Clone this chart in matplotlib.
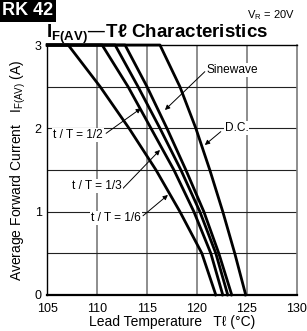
import matplotlib
matplotlib.use("Agg")
import matplotlib.pyplot as plt

plt.rcParams['font.family'] = ['Liberation Sans', 'DejaVu Sans']
plt.rcParams['mathtext.default'] = 'regular'

# Data
current_levels = [3.0, 3.0, 2.5, 2.0, 1.5, 1.0, 0.5, 0.0]
temp_1_6 = [105.0, 107.1, 110.3, 113.2, 115.9, 118.3, 120.5, 121.9]
temp_1_3 = [105.0, 110.5, 113.1, 115.4, 117.7, 119.7, 121.4, 122.6]
temp_1_2 = [105.0, 111.8, 114.1, 116.3, 118.4, 120.3, 121.9, 123.1]
temp_sine = [105.0, 112.8, 115.0, 117.0, 118.9, 120.7, 122.2, 123.5]
temp_dc = [105.0, 116.3, 118.3, 119.9, 121.3, 122.6, 123.8, 124.9]

x_ticks = [105, 110, 115, 120, 125, 130]
y_ticks = [0, 1, 2, 3]

labels = ["t / T = 1/6", "t / T = 1/3", "t / T = 1/2", "Sinewave", "D.C."]
label_text_xy = [(109.4, 0.92), (107.5, 1.31), (105.6, 1.92), (121.0, 2.70), (122.8, 2.00)]
label_arrow_from = [(114.6, 0.95), (112.6, 1.28), (110.9, 1.94), (120.8, 2.68), (122.4, 1.96)]
label_arrow_to = [(117.1, 1.20), (116.3, 1.74), (114.4, 2.24), (116.8, 2.22), (120.8, 1.80)]

fig = plt.figure(figsize=(3.07, 3.31), dpi=100)
ax = fig.add_axes([0.154, 0.109, 0.812, 0.755])

ax.set_xlim(105, 130)
ax.set_ylim(0, 3)

# grid
for xv in x_ticks[1:-1]:
    ax.axvline(xv, color='#7a7a7a', lw=1.2, zorder=1)
for yv in [0.5, 1, 1.5, 2, 2.5]:
    ax.axhline(yv, color='#222222', lw=0.8, zorder=1)

for t in [temp_1_6, temp_1_3, temp_1_2, temp_sine, temp_dc]:
    ax.plot(t, current_levels, color='black', lw=2.0, zorder=3,
            solid_joinstyle='round', clip_on=False)

for lab, txy, afrom, ato in zip(labels, label_text_xy, label_arrow_from, label_arrow_to):
    ax.text(txy[0], txy[1], lab, fontsize=8.6, ha='left', va='center', zorder=5,
            bbox=dict(facecolor='white', edgecolor='none', pad=0.6))
    ax.annotate('', xy=ato, xytext=afrom, zorder=4,
                arrowprops=dict(arrowstyle='-|>', color='black', lw=0.7,
                                mutation_scale=7, shrinkA=0, shrinkB=0))

ax.set_xticks(x_ticks)
ax.set_yticks(y_ticks)
ax.tick_params(length=0, labelsize=9, pad=4)
ax.tick_params(axis='x', pad=6)
for s in ['left', 'top']:
    ax.spines[s].set_color('black')
    ax.spines[s].set_linewidth(1.0)
ax.spines['bottom'].set_linewidth(1.6)
ax.spines['right'].set_color('#7a7a7a')
ax.spines['right'].set_linewidth(1.2)

ax.set_xlabel('Lead Temperature   T\u2113 (\u00b0C)', fontsize=10, labelpad=0)
ax.set_ylabel('Average Forward Current   $I_{F(AV)}$ (A)', fontsize=10, labelpad=5)

fig.text(0.150, 0.897, '$I_{F(AV)}$\u2014T\u2113 Characteristics', fontsize=13.5,
         fontweight='bold', ha='left', va='center')
fig.text(0.962, 0.955, '$V_R$ = 20V', fontsize=8, ha='right', va='center')
fig.text(0.008, 0.994, 'RK 42', fontsize=13, fontweight='bold', color='white',
         ha='left', va='top',
         bbox=dict(facecolor='black', edgecolor='none', pad=2.0))

fig.savefig('out.png', dpi=100)
